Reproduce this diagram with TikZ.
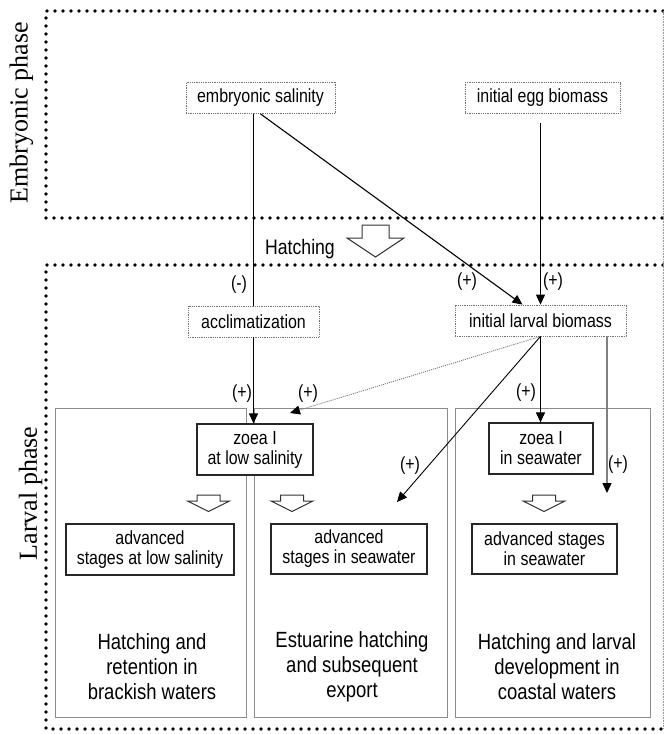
\documentclass[tikz,border=0pt]{standalone}
\usepackage{fontspec}
\setmainfont{Liberation Serif}
\newfontfamily\labelfont[FakeStretch=0.84]{Liberation Sans}
\usetikzlibrary{arrows.meta}

\tikzset{
  phasedots/.style={line width=3.8pt, line cap=round, dash pattern=on 0pt off 8pt},
  varbox/.style={draw=black!55, densely dotted, line width=0.8pt, minimum height=31pt, inner sep=0pt,
    font=\labelfont\fontsize{19}{20}\selectfont},
  stagebox/.style={draw=black!85, fill=white, line width=1.2pt, align=center, inner sep=0pt,
    font=\labelfont\fontsize{19}{20}\selectfont},
  panel/.style={draw=black!45, line width=0.9pt},
  sign/.style={inner sep=0pt, font=\labelfont\fontsize{19}{20}\selectfont},
  paneltitle/.style={align=center, inner sep=0pt, font=\labelfont\fontsize{22}{25}\selectfont},
  phase/.style={rotate=90, inner sep=0pt, font=\fontsize{26}{28}\selectfont},
  tip/.tip={Triangle[length=10pt, width=9pt, black]},
  link/.style={line width=1.1pt, -tip},
  hollow/.style={draw=black!80, line width=1pt, fill=white, line join=miter},
  smallarrow/.pic={\draw[hollow] (-11.5,0) -- (11.5,0) -- (11.5,6) -- (21,6) -- (0,16.5)
    -- (-21,6) -- (-11.5,6) -- cycle;},
}

\begin{document}
\begin{tikzpicture}[x=1pt, y=-1pt]
  \useasboundingbox (0,0) rectangle (664,734);
  % phases
  \draw[phasedots] (663,11) -- (46,11) -- (46,218) -- (663,218);
  \draw[phasedots] (663,265) -- (46,265) -- (46,729) -- (663,729);
  \draw[black!40, densely dotted, line width=0.6pt] (663,11) -- (663,729);
  \node[phase] (embryo) at (21.5,112.5) {Embryonic phase};
  \node[phase] (larva) at (30.5,493.5) {Larval phase};

  % hatching
  \draw[hollow] (362,225) -- (389,225) -- (389,238) -- (404,238) -- (375.5,257)
    -- (347,238) -- (362,238) -- cycle;
  \node[sign, font=\labelfont\fontsize{21}{22}\selectfont] (hatch) at (300,249) {Hatching};

  % panels
  \draw[panel] (55,408) rectangle (246,717);
  \draw[panel] (254,408) rectangle (447,717);
  \draw[panel] (455,408) rectangle (650,717);
  \node[paneltitle] (retain) at (152,667) {Hatching and\\retention in\\brackish waters};
  \node[paneltitle] (export) at (352,667) {Estuarine hatching\\and subsequent\\export};
  \node[paneltitle] (coast) at (557,667) {Hatching and larval\\development in\\coastal waters};

  % variables
  \node[varbox, minimum width=149pt] (esal) at (260.5,98) {embryonic salinity};
  \node[varbox, minimum width=155pt] (eggbio) at (542.5,98) {initial egg biomass};
  \node[varbox, minimum width=131pt] (accl) at (253.5,321.5) {acclimatization};
  \node[varbox, minimum width=171pt] (larvbio) at (540.5,320.5) {initial larval biomass};

  % stages
  \node[stagebox, minimum width=116pt, minimum height=51pt] (zlow) at (255,449.5) {zoea I\\at low salinity};
  \node[stagebox, minimum width=104pt, minimum height=51pt] (zsea) at (541,448.5) {zoea I\\in seawater};
  \node[stagebox, minimum width=168pt, minimum height=51pt] (advlow) at (150,549.5) {advanced\\stages at low salinity};
  \node[stagebox, minimum width=156pt, minimum height=50pt] (advest) at (349,549) {advanced\\stages in seawater};
  \node[stagebox, minimum width=145pt, minimum height=50pt] (advsea) at (544.5,549) {advanced stages\\in seawater};
  \pic at (208.5,495) {smallarrow};
  \pic at (292,495) {smallarrow};
  \pic at (544,495) {smallarrow};

  % free ends
  \coordinate (dotend) at (290,413);
  \coordinate (estend) at (397,502);
  \coordinate (seaend) at (607,493);

  % links
  \draw[line width=1.1pt] (esal.south -| accl.north) -- (accl.north);
  \draw[link] (esal.south) -- ([xshift=-18pt]larvbio.north);
  \draw[link, shorten <=9pt] (eggbio.south -| larvbio.north) -- (larvbio.north);
  \draw[link] (accl.south) -- (accl.south |- zlow.north);
  \draw[link] (larvbio.south) -- (larvbio.south |- zsea.north);
  \draw[link, black!55, densely dotted, line width=0.8pt] (larvbio.south) -- (dotend);
  \draw[link, line width=0.9pt] (larvbio.south) -- (estend);
  \draw[link, black!50, line width=1.4pt] (larvbio.south -| seaend) -- (seaend);

  % signs
  \node[sign] (s1) at (239,285) {(-)};
  \node[sign] (s2) at (467,282) {(+)};
  \node[sign] (s3) at (553,282) {(+)};
  \node[sign] (s4) at (242,394) {(+)};
  \node[sign] (s5) at (308,394) {(+)};
  \node[sign] (s6) at (526,393) {(+)};
  \node[sign] (s7) at (410,466) {(+)};
  \node[sign] (s8) at (618,465) {(+)};
\end{tikzpicture}
\end{document}
